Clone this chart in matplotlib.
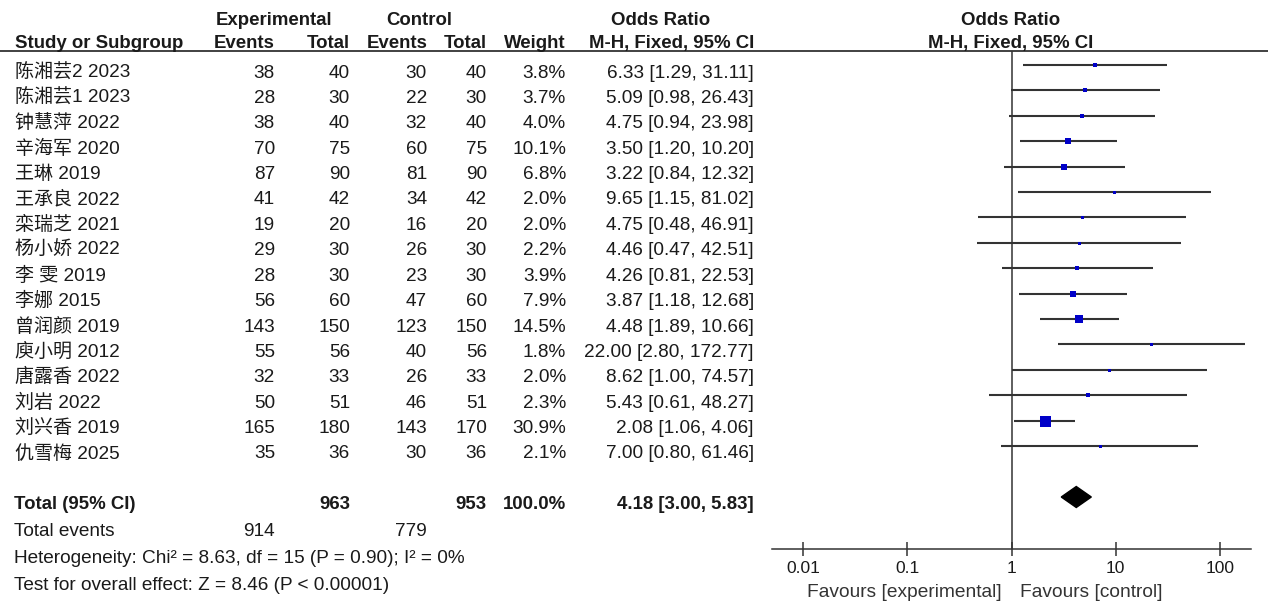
import numpy as np
import matplotlib
matplotlib.use('Agg')
import matplotlib.pyplot as plt

plt.rcParams['font.family'] = ['Liberation Sans', 'Noto Sans CJK SC', 'DejaVu Sans']

# data
studies = ['陈湘芸2 2023', '陈湘芸1 2023', '钟慧萍 2022', '辛海军 2020', '王琳 2019',
           '王承良 2022', '栾瑞芝 2021', '杨小娇 2022', '李 雯 2019', '李娜 2015',
           '曾润颜 2019', '庾小明 2012', '唐露香 2022', '刘岩 2022', '刘兴香 2019',
           '仇雪梅 2025']
exp_events = [38, 28, 38, 70, 87, 41, 19, 29, 28, 56, 143, 55, 32, 50, 165, 35]
exp_total = [40, 30, 40, 75, 90, 42, 20, 30, 30, 60, 150, 56, 33, 51, 180, 36]
ctl_events = [30, 22, 32, 60, 81, 34, 16, 26, 23, 47, 123, 40, 26, 46, 143, 30]
ctl_total = [40, 30, 40, 75, 90, 42, 20, 30, 30, 60, 150, 56, 33, 51, 170, 36]
weights = [3.8, 3.7, 4.0, 10.1, 6.8, 2.0, 2.0, 2.2, 3.9, 7.9, 14.5, 1.8, 2.0, 2.3, 30.9, 2.1]
odds = [6.33, 5.09, 4.75, 3.50, 3.22, 9.65, 4.75, 4.46, 4.26, 3.87, 4.48, 22.00, 8.62,
        5.43, 2.08, 7.00]
ci_low = [1.29, 0.98, 0.94, 1.20, 0.84, 1.15, 0.48, 0.47, 0.81, 1.18, 1.89, 2.80, 1.00,
          0.61, 1.06, 0.80]
ci_high = [31.11, 26.43, 23.98, 10.20, 12.32, 81.02, 46.91, 42.51, 22.53, 12.68, 10.66,
           172.77, 74.57, 48.27, 4.06, 61.46]

total_exp = 963
total_ctl = 953
total_events_exp = 914
total_events_ctl = 779
pooled = [4.18, 3.00, 5.83]
heterogeneity = 'Heterogeneity: Chi² = 8.63, df = 15 (P = 0.90); I² = 0%'
overall = 'Test for overall effect: Z = 8.46 (P < 0.00001)'
tick_vals = [0.01, 0.1, 1, 10, 100]
tick_labels = ['0.01', '0.1', '1', '10', '100']

W, H = 1268, 612
TXT = '#1a1a1a'
LINE = '#333333'
BLUE = '#0000c8'
FS = 13.7
FSB = 13.4

fig = plt.figure(figsize=(W / 100, H / 100), dpi=100)
ax = fig.add_axes([0, 0, 1, 1])
ax.set_xlim(0, W)
ax.set_ylim(H, 0)
ax.axis('off')

# forest panel, y in same pixel units as the table
fx = fig.add_axes([772 / W, (H - 549) / H, (1251 - 772) / W, (549 - 51) / H])
fx.set_xscale('log')
fx.set_xlim(10 ** -2.297, 10 ** 2.297)
fx.set_ylim(549, 51)
fx.patch.set_visible(False)
for s in ['top', 'left', 'right']:
    fx.spines[s].set_visible(False)
fx.spines['bottom'].set_color(LINE)
fx.spines['bottom'].set_linewidth(1.1)
fx.set_yticks([])
fx.set_xticks(tick_vals)
fx.set_xticklabels(tick_labels)
fx.minorticks_off()
fx.tick_params(axis='x', direction='inout', length=9.5, width=1.1, color=LINE,
               labelsize=12.5, labelcolor=TXT, pad=4)
fx.axvline(1, color=LINE, lw=1.1)


def txt(x, y, s, ha='right', bold=False, **kw):
    ax.text(x, y, s, ha=ha, va='baseline', color=TXT,
            fontsize=FSB if bold else FS, fontweight='bold' if bold else 'normal', **kw)


# header
txt(274, 25, 'Experimental', ha='center', bold=True)
txt(419, 25, 'Control', ha='center', bold=True)
txt(661, 25, 'Odds Ratio', ha='center', bold=True)
txt(1011, 25, 'Odds Ratio', ha='center', bold=True)
txt(15, 48, 'Study or Subgroup', ha='left', bold=True)
txt(275, 48, 'Events', bold=True)
txt(350, 48, 'Total', bold=True)
txt(428, 48, 'Events', bold=True)
txt(487, 48, 'Total', bold=True)
txt(566, 48, 'Weight', bold=True)
txt(754, 48, 'M-H, Fixed, 95% CI', bold=True)
txt(1011, 48, 'M-H, Fixed, 95% CI', ha='center', bold=True)
ax.axhline(51, color=LINE, lw=1.3)

# study rows
row_y = 70.5 + 25.4 * np.arange(len(studies))
for i, y in enumerate(row_y):
    b = y + 7
    txt(15, b, studies[i], ha='left')
    txt(275, b, str(exp_events[i]))
    txt(350, b, str(exp_total[i]))
    txt(427, b, str(ctl_events[i]))
    txt(487, b, str(ctl_total[i]))
    txt(566, b, f'{weights[i]:.1f}%')
    txt(754, b, f'{odds[i]:.2f} [{ci_low[i]:.2f}, {ci_high[i]:.2f}]')

line_y = row_y - 5.5
fx.hlines(line_y, ci_low, ci_high, color=LINE, lw=1.5, zorder=2)
sides = 11 * np.sqrt(np.array(weights) / max(weights))
sides = np.maximum(sides, 3)
for x, y, s in zip(odds, line_y, sides):
    fx.plot(x, y, marker='s', ms=s * 0.72, color=BLUE, mec=BLUE, mew=0, zorder=3)

# totals
ty = 502
txt(14, ty + 7, 'Total (95% CI)', ha='left', bold=True)
txt(350, ty + 7, str(total_exp), bold=True)
txt(487, ty + 7, str(total_ctl), bold=True)
txt(566, ty + 7, '100.0%', bold=True)
txt(754, ty + 7, f'{pooled[0]:.2f} [{pooled[1]:.2f}, {pooled[2]:.2f}]', bold=True)
dy = ty - 5
fx.fill([pooled[1], pooled[0], pooled[2], pooled[0]], [dy, dy - 10.5, dy, dy + 10.5],
        color='black', zorder=3)

txt(14, 536, 'Total events', ha='left')
txt(275, 536, str(total_events_exp))
txt(427, 536, str(total_events_ctl))
txt(14, 563, heterogeneity, ha='left')
txt(14, 590, overall, ha='left')

ax.text(1002, 597, 'Favours [experimental]', ha='right', va='baseline', color='#333333',
        fontsize=13.8)
ax.text(1020, 597, 'Favours [control]', ha='left', va='baseline', color='#333333',
        fontsize=13.8)

fig.savefig('out.png', dpi=100)
